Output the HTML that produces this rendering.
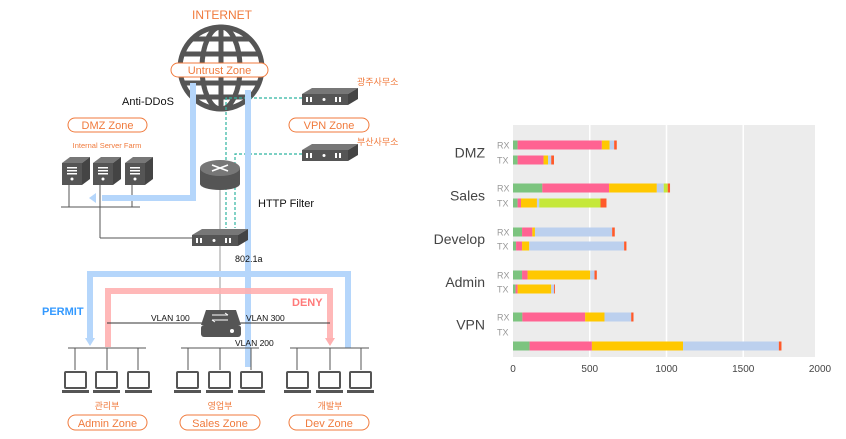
<!DOCTYPE html>
<html><head><meta charset="utf-8">
<style>
html,body{margin:0;padding:0;background:#fff;width:846px;height:439px;overflow:hidden}
svg text{font-family:"Liberation Sans","Noto Sans CJK KR",sans-serif}
</style></head>
<body>
<svg id="root" width="846" height="439" viewBox="0 0 846 439">
<defs>
<g id="server"><path d="M0,6 L8,0 L28,0 L20,6 Z" fill="#777"/><path d="M20,6 L28,0 L28,22 L20,28 Z" fill="#444"/><rect x="0" y="6" width="20" height="22" fill="#555"/><rect x="5" y="10" width="10" height="1.5" fill="#fff"/><rect x="5" y="13" width="10" height="1.5" fill="#fff"/><rect x="5" y="16" width="10" height="1.5" fill="#fff"/><circle cx="10" cy="22" r="1.5" fill="#fff"/></g>
<g id="laptop"><rect x="2" y="0" width="23" height="18" rx="2" fill="#555"/><rect x="4" y="2" width="19" height="14" fill="#fff"/><rect x="0" y="19" width="27" height="3" fill="#555"/></g>
<g id="modem"><path d="M0,6 L10,0 L56,0 L46,6 Z" fill="#777"/><rect x="0" y="6" width="46" height="11" fill="#555"/><path d="M46,6 L56,0 L56,11 L46,17 Z" fill="#444"/><rect x="4" y="9" width="2" height="5" fill="#fff"/><rect x="8" y="9" width="2" height="5" fill="#fff"/><circle cx="22" cy="11.5" r="1.5" fill="#fff"/><rect x="33" y="9" width="2" height="5" fill="#fff"/><rect x="37" y="9" width="2" height="5" fill="#fff"/></g>
</defs>

<g>
<text x="222" y="19" text-anchor="middle" font-size="12" fill="#f07a3c">INTERNET</text>
<g fill="none" stroke="#555" stroke-width="5">
<circle cx="221" cy="68" r="41"/>
<ellipse cx="221" cy="68" rx="19" ry="41"/>
<line x1="221" y1="27" x2="221" y2="109"/>
<line x1="182" y1="54" x2="260" y2="54"/>
<line x1="182" y1="83" x2="260" y2="83"/>
<line x1="192" y1="39" x2="250" y2="39"/>
<line x1="192" y1="97" x2="250" y2="97"/>
</g>
<rect x="171" y="63" width="97" height="14" rx="7" fill="#fff" stroke="#f07a3c"/>
<text x="219.5" y="74" text-anchor="middle" font-size="11" fill="#f07a3c">Untrust Zone</text>
<text x="122" y="105" font-size="11" fill="#111">Anti-DDoS</text>

<rect x="68" y="118" width="79" height="14" rx="7" fill="#fff" stroke="#f07a3c"/>
<text x="107.5" y="129" text-anchor="middle" font-size="11" fill="#f07a3c">DMZ Zone</text>
<text x="107" y="148" text-anchor="middle" font-size="7.5" fill="#f07a3c">Internal Server Farm</text>
<use href="#server" x="62" y="157"/>
<use href="#server" x="93" y="157"/>
<use href="#server" x="125" y="157"/>
<g stroke="#555" stroke-width="1" fill="none">
<line x1="61" y1="207" x2="140" y2="207"/>
<line x1="69" y1="185" x2="69" y2="207"/><line x1="100" y1="185" x2="100" y2="238"/><line x1="132" y1="185" x2="132" y2="207"/>
<polyline points="100,238 192,238"/>
<line x1="220" y1="190" x2="220" y2="232" stroke="#999"/>
<line x1="220" y1="246" x2="220" y2="312" stroke="#999"/>
</g>

<rect x="289" y="118" width="80" height="14" rx="7" fill="#fff" stroke="#f07a3c"/>
<text x="329" y="129" text-anchor="middle" font-size="11" fill="#f07a3c">VPN Zone</text>
<text x="357" y="85" font-size="9" fill="#f07a3c">광주사무소</text>
<text x="357" y="145" font-size="9" fill="#f07a3c">부산사무소</text>
<g stroke="#2fb5a0" stroke-width="1.2" stroke-dasharray="3,2" fill="none">
<polyline points="302,98 226,98 226,228"/>
<polyline points="302,154 235,154 235,228"/>
</g>
<use href="#modem" x="302" y="88"/>
<use href="#modem" x="302" y="144"/>

<g>
<rect x="200" y="168" width="40" height="16" fill="#555"/>
<ellipse cx="220" cy="184" rx="20" ry="6" fill="#555"/>
<ellipse cx="220" cy="168" rx="20" ry="8" fill="#777"/>
<path d="M212,165 L228,171 M228,165 L212,171" stroke="#fff" stroke-width="1.5"/>
</g>
<text x="258" y="207" font-size="11" fill="#111">HTTP Filter</text>

<g fill="none" stroke="#b5d6fb" stroke-width="6">
<polyline points="193,83 193,198 102,198"/>
<line x1="248" y1="90" x2="248" y2="367"/>
<polyline points="348,348 348,274 90,274 90,340"/>
</g>
<polygon points="96,193 96,203 89,198" fill="#b5d6fb"/>
<polygon points="85,338 95,338 90,346" fill="#b5d6fb"/>
<polyline points="108,347 108,291 330,291 330,340" fill="none" stroke="#ffb0b0" stroke-width="6" opacity="0.9"/>
<polygon points="325,338 335,338 330,346" fill="#ffb0b0"/>

<use href="#modem" x="192" y="229"/>
<text x="235" y="262" font-size="9" fill="#111">802.1a</text>
<text x="42" y="315" font-size="11" font-weight="bold" fill="#3399ff">PERMIT</text>
<text x="292" y="306" font-size="11" font-weight="bold" fill="#ff7a7a">DENY</text>
<line x1="107" y1="323" x2="330" y2="323" stroke="#333" stroke-width="1"/>
<text x="151" y="321" font-size="8.5" fill="#111">VLAN 100</text>
<text x="246" y="321" font-size="8.5" fill="#111">VLAN 300</text>
<text x="235" y="346" font-size="8.5" fill="#111">VLAN 200</text>
<g>
<path d="M206,310 L236,310 L241,325 L201,325 Z" fill="#555"/>
<rect x="201" y="325" width="40" height="12" rx="3" fill="#555"/>
<circle cx="232" cy="331" r="2" fill="#fff"/>
<path d="M212,315 L228,315 M225,313 L228,315 M212,320 L228,320 M215,322 L212,320" stroke="#fff" stroke-width="1" fill="none"/>
</g>

<g stroke="#555" stroke-width="1" fill="none">
<line x1="68" y1="348" x2="146" y2="348"/><line x1="181" y1="348" x2="259" y2="348"/><line x1="290" y1="348" x2="369" y2="348"/>
<line x1="75" y1="348" x2="75" y2="370"/><line x1="107" y1="348" x2="107" y2="370"/><line x1="138" y1="348" x2="138" y2="370"/>
<line x1="188" y1="348" x2="188" y2="370"/><line x1="220" y1="348" x2="220" y2="370"/><line x1="251" y1="348" x2="251" y2="370"/>
<line x1="297" y1="348" x2="297" y2="370"/><line x1="330" y1="348" x2="330" y2="370"/><line x1="361" y1="348" x2="361" y2="370"/>
</g>
<use href="#laptop" x="62" y="371"/>
<use href="#laptop" x="93" y="371"/>
<use href="#laptop" x="125" y="371"/>
<use href="#laptop" x="174" y="371"/>
<use href="#laptop" x="206" y="371"/>
<use href="#laptop" x="238" y="371"/>
<use href="#laptop" x="284" y="371"/>
<use href="#laptop" x="316" y="371"/>
<use href="#laptop" x="347" y="371"/>
<text x="107" y="409" text-anchor="middle" font-size="9" fill="#f07a3c">관리부</text>
<text x="220" y="409" text-anchor="middle" font-size="9" fill="#f07a3c">영업부</text>
<text x="330" y="409" text-anchor="middle" font-size="9" fill="#f07a3c">개발부</text>
<rect x="68" y="415" width="79" height="15" rx="7.5" fill="#fff" stroke="#f07a3c"/>
<text x="107.5" y="427" text-anchor="middle" font-size="11" fill="#f07a3c">Admin Zone</text>
<rect x="180" y="415" width="80" height="15" rx="7.5" fill="#fff" stroke="#f07a3c"/>
<text x="220" y="427" text-anchor="middle" font-size="11" fill="#f07a3c">Sales Zone</text>
<rect x="289" y="415" width="80" height="15" rx="7.5" fill="#fff" stroke="#f07a3c"/>
<text x="329" y="427" text-anchor="middle" font-size="11" fill="#f07a3c">Dev Zone</text>
</g>

<g id="chart"></g>
</svg>
<script>
const rowLabels = ["RX","TX","RX","TX","RX","TX","RX","TX","RX","TX",""];
const groupNames = ["DMZ","Sales","Develop","Admin","VPN"];
const greenVals  = [30,30,191,30,59,20,59,17,61,0,108];
const pinkVals   = [549,169,435,22,67,39,36,13,409,0,406];
const yellowVals = [50,29,311,104,17,47,408,219,126,0,594];
const blueVals   = [30,21,45,15,503,618,28,18,174,0,624];
const limeVals   = [0,0,26,399,0,0,0,0,0,0,0];
const redVals    = [17,18,15,39,17,15,15,6,15,0,17];
const tickVals = [0,500,1000,1500,2000];

const NS="http://www.w3.org/2000/svg";
const g=document.getElementById('chart');
const x0=513, pxPer=0.1535;
const xs=v=>x0+v*pxPer;
const rowY=[145,160,188,203,232,246,275,289,317,332,346];
function mk(t,a){const e=document.createElementNS(NS,t);for(const k in a)e.setAttribute(k,a[k]);g.appendChild(e);return e;}
const bg=mk('rect',{x:513,y:125,width:302,height:232,fill:'#ececec'});


tickVals.forEach(v=>{
  if(v>0&&v<2000){const l=mk('line',{x1:xs(v),x2:xs(v),y1:125,y2:357,stroke:'#fff','stroke-width':1.5});
  
  }
  const t=mk('text',{x:xs(v),y:372,'text-anchor':'middle','font-size':10,fill:'#444'});
  t.textContent=v;
  
  
});
groupNames.forEach((n,i)=>{
  const t=mk('text',{x:485,y:(rowY[i*2]+rowY[i*2+1])/2+5,'text-anchor':'end','font-size':14,fill:'#444'});
  t.textContent=n;
  
  
});
const series=[[greenVals,'#7cc47f'],[pinkVals,'#ff6392'],[yellowVals,'#ffc800'],[blueVals,'#bcd0ee'],[limeVals,'#c5e83a'],[redVals,'#ff5a2a']];
rowLabels.forEach((lab,r)=>{
  if(lab){const t=mk('text',{x:497,y:rowY[r]+3.5,'font-size':9,fill:'#999'});
  t.textContent=lab;
  
  }
  let acc=0;
  series.forEach(([vals,c])=>{
    const v=vals[r]; if(v<=0)return;
    const b=mk('rect',{x:xs(acc),y:rowY[r]-4.5,width:v*pxPer,height:9,fill:c});
    
    
    acc+=v;
  });
});
</script>
</body></html>
